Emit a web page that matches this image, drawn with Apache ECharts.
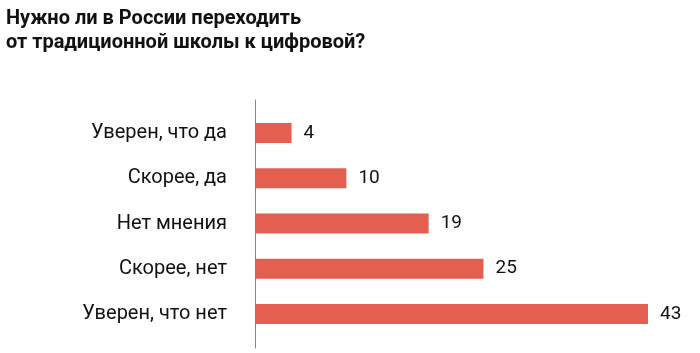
<!DOCTYPE html>
<html><head><meta charset="utf-8">
<script src="https://cdn.jsdelivr.net/npm/echarts@6/dist/echarts.min.js"></script>
<style>html,body{margin:0;padding:0;background:#fff}#c{width:700px;height:353px}</style>
</head><body><div id="c"></div>
<script>
const titleText = 'Нужно ли в России переходить\nот традиционной школы к цифровой?';
const categories = ['Уверен, что да', 'Скорее, да', 'Нет мнения', 'Скорее, нет', 'Уверен, что нет'];
const values = [4, 10, 19, 25, 43];

const chart = echarts.init(document.getElementById('c'), null, {renderer: 'canvas'});
chart.setOption({
  animation: false,
  title: {
    text: titleText, left: 1, top: 2,
    textStyle: {fontFamily: 'Roboto', fontWeight: 'bold', fontSize: 20, lineHeight: 24, color: '#111'}
  },
  grid: [
    {left: 255, top: 110.5, height: 226, width: 393},
    {left: 255, top: 100, height: 248, width: 393}
  ],
  xAxis: [
    {type: 'value', gridIndex: 0, min: 0, max: 43, show: false},
    {type: 'value', gridIndex: 1, min: 0, max: 1, show: false}
  ],
  yAxis: [
    {type: 'category', gridIndex: 0, data: categories, inverse: true,
     axisLine: {show: false}, axisTick: {show: false},
     axisLabel: {margin: 28, fontFamily: 'Roboto', fontSize: 20, color: '#111'}},
    {type: 'value', gridIndex: 1, min: 0, max: 1,
     axisLine: {show: true, lineStyle: {color: '#888', width: 1}},
     axisTick: {show: false}, axisLabel: {show: false}, splitLine: {show: false}}
  ],
  series: [{
    type: 'bar', xAxisIndex: 0, yAxisIndex: 0, data: values, barWidth: 20,
    itemStyle: {color: '#e35f50'},
    label: {show: true, position: 'right', distance: 12, fontFamily: 'Roboto', fontSize: 19, color: '#111'}
  }]
});
</script></body></html>
